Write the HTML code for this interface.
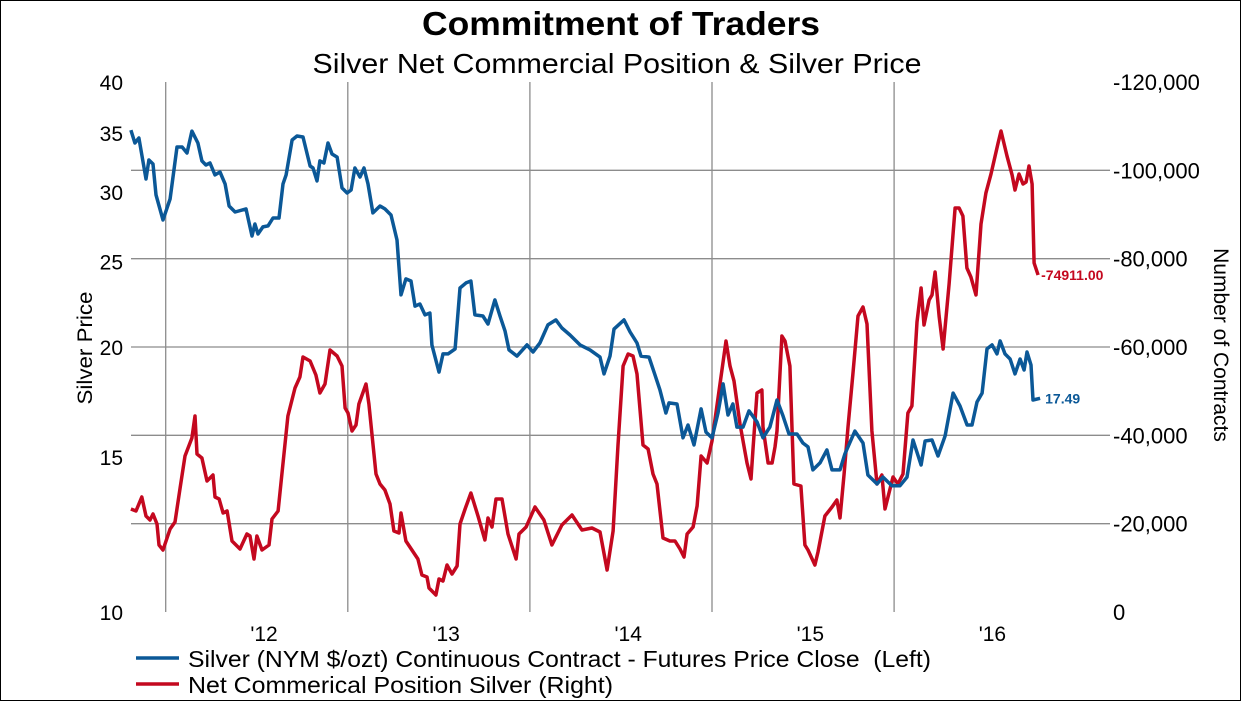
<!DOCTYPE html>
<html><head><meta charset="utf-8">
<style>
html,body{margin:0;padding:0;background:#fff;}
#wrap{position:relative;width:1241px;height:701px;overflow:hidden;}
svg text{font-family:"Liberation Sans",Arial,sans-serif;}
</style></head>
<body>
<div id="wrap">
<svg id="chart" width="1241" height="701" viewBox="0 0 1241 701" xmlns="http://www.w3.org/2000/svg">
  <rect x="0.5" y="0.5" width="1240" height="700" fill="#fff" stroke="#000" stroke-width="1"/>
  <text x="621" y="35" text-anchor="middle" font-size="33" font-weight="bold" textLength="398" lengthAdjust="spacingAndGlyphs">Commitment of Traders</text>
  <text x="617" y="73" text-anchor="middle" font-size="28" textLength="609" lengthAdjust="spacingAndGlyphs">Silver Net Commercial Position &amp; Silver Price</text>
  <g id="grid"></g>
  <g id="axes"></g>
  <g id="series"></g>
  <text transform="translate(92,348) rotate(-90)" text-anchor="middle" font-size="21" textLength="113" lengthAdjust="spacingAndGlyphs">Silver Price</text>
  <text transform="translate(1214,345) rotate(90)" text-anchor="middle" font-size="21">Number of Contracts</text>
  <g>
    <g>
      <line x1="136" y1="658" x2="179" y2="658" stroke="#0b5897" stroke-width="3.5"/>
      <text x="188" y="667" font-size="23" textLength="743" lengthAdjust="spacingAndGlyphs" xml:space="preserve">Silver (NYM $/ozt) Continuous Contract - Futures Price Close  (Left)</text>
    </g>
    <g>
      <line x1="136" y1="684" x2="179" y2="684" stroke="#c4081f" stroke-width="3.5"/>
      <text x="188" y="693" font-size="23" textLength="425" lengthAdjust="spacingAndGlyphs">Net Commerical Position Silver (Right)</text>
    </g>
  </g>
</svg>
</div>
<script>
const priceDates=[2011.309,2011.331,2011.353,2011.392,2011.408,2011.430,2011.447,2011.485,2011.524,2011.562,2011.590,2011.617,2011.644,2011.677,2011.699,2011.721,2011.743,2011.771,2011.798,2011.826,2011.848,2011.881,2011.941,2011.974,2011.990,2012.007,2012.034,2012.062,2012.089,2012.122,2012.144,2012.161,2012.194,2012.221,2012.254,2012.293,2012.309,2012.331,2012.347,2012.369,2012.391,2012.413,2012.441,2012.468,2012.496,2012.518,2012.539,2012.567,2012.589,2012.611,2012.638,2012.677,2012.704,2012.737,2012.770,2012.792,2012.819,2012.847,2012.869,2012.896,2012.924,2012.951,2012.962,2013.001,2013.023,2013.050,2013.089,2013.116,2013.149,2013.176,2013.198,2013.242,2013.270,2013.308,2013.336,2013.363,2013.385,2013.429,2013.484,2013.517,2013.555,2013.599,2013.643,2013.676,2013.720,2013.775,2013.830,2013.885,2013.907,2013.940,2013.962,2014.017,2014.050,2014.088,2014.110,2014.154,2014.187,2014.214,2014.247,2014.264,2014.308,2014.341,2014.368,2014.401,2014.440,2014.467,2014.500,2014.533,2014.561,2014.588,2014.615,2014.637,2014.670,2014.703,2014.747,2014.780,2014.818,2014.857,2014.890,2014.923,2014.967,2014.999,2015.027,2015.054,2015.093,2015.131,2015.159,2015.203,2015.230,2015.285,2015.329,2015.356,2015.406,2015.439,2015.488,2015.532,2015.571,2015.604,2015.648,2015.670,2015.708,2015.741,2015.780,2015.824,2015.862,2015.901,2015.928,2015.955,2015.983,2016.010,2016.038,2016.065,2016.082,2016.109,2016.137,2016.164,2016.192,2016.214,2016.230,2016.252,2016.263,2016.302];
const priceValues=[35.27,34.10,34.55,31.04,32.62,32.28,29.77,27.88,29.46,33.75,33.75,33.22,35.18,34.10,32.54,32.19,32.36,31.37,31.61,30.64,28.92,28.47,28.70,26.74,27.59,26.88,27.38,27.45,28.03,28.03,30.64,31.37,34.37,34.73,34.64,32.11,31.94,30.88,32.54,32.36,34.10,33.13,32.87,30.32,29.92,30.16,31.94,31.20,31.94,30.64,28.40,28.92,28.70,28.25,26.46,22.92,23.90,23.77,22.26,22.38,21.75,21.86,20.11,18.73,19.64,19.64,19.90,23.34,23.65,23.77,21.75,21.69,21.24,22.62,21.69,20.86,19.85,19.53,20.11,19.74,20.21,21.19,21.47,21.02,20.64,20.11,19.85,19.48,18.64,19.53,20.96,21.47,20.80,20.21,19.53,19.48,18.59,17.88,16.83,17.28,17.23,15.77,16.31,15.48,17.01,16.01,15.77,16.83,18.16,16.74,17.23,16.22,16.22,16.92,16.44,15.77,16.22,17.41,16.70,15.93,15.93,15.56,15.40,14.50,14.77,15.28,14.50,14.50,15.12,16.05,15.56,14.31,13.98,14.23,13.91,13.91,14.23,15.68,14.69,15.64,15.68,15.04,15.85,17.73,17.14,16.31,16.31,17.32,17.73,19.90,20.11,19.64,20.32,19.64,19.38,18.64,19.38,18.83,19.74,19.08,17.41,17.49];

const netDates=[2011.309,2011.337,2011.369,2011.392,2011.414,2011.430,2011.452,2011.463,2011.485,2011.524,2011.551,2011.579,2011.606,2011.644,2011.661,2011.672,2011.699,2011.727,2011.760,2011.771,2011.793,2011.815,2011.837,2011.864,2011.908,2011.946,2011.963,2011.985,2012.001,2012.029,2012.067,2012.084,2012.117,2012.138,2012.171,2012.210,2012.237,2012.254,2012.293,2012.325,2012.347,2012.375,2012.402,2012.441,2012.468,2012.485,2012.501,2012.523,2012.545,2012.561,2012.600,2012.616,2012.655,2012.677,2012.704,2012.732,2012.753,2012.781,2012.792,2012.819,2012.852,2012.885,2012.907,2012.935,2012.946,2012.984,2013.001,2013.023,2013.045,2013.072,2013.100,2013.116,2013.144,2013.176,2013.215,2013.253,2013.270,2013.292,2013.314,2013.347,2013.380,2013.424,2013.440,2013.479,2013.528,2013.577,2013.621,2013.676,2013.731,2013.786,2013.841,2013.885,2013.924,2013.957,2013.984,2014.012,2014.039,2014.066,2014.088,2014.121,2014.149,2014.176,2014.198,2014.231,2014.269,2014.297,2014.324,2014.346,2014.363,2014.396,2014.418,2014.440,2014.473,2014.500,2014.544,2014.577,2014.599,2014.621,2014.654,2014.692,2014.714,2014.725,2014.747,2014.774,2014.780,2014.808,2014.830,2014.846,2014.857,2014.884,2014.901,2014.928,2014.950,2014.988,2015.010,2015.027,2015.065,2015.082,2015.120,2015.159,2015.186,2015.203,2015.225,2015.247,2015.274,2015.302,2015.329,2015.351,2015.378,2015.406,2015.433,2015.450,2015.494,2015.521,2015.549,2015.576,2015.598,2015.626,2015.648,2015.664,2015.692,2015.708,2015.725,2015.747,2015.769,2015.802,2015.835,2015.857,2015.878,2015.900,2015.922,2015.950,2015.977,2016.004,2016.032,2016.071,2016.087,2016.120,2016.148,2016.164,2016.186,2016.208,2016.225,2016.241,2016.258,2016.269,2016.291];
const netValues=[-23320,-22870,-26040,-21730,-20830,-22190,-19920,-15170,-14040,-18790,-20380,-28070,-35320,-39390,-44370,-35770,-34870,-29660,-31020,-26040,-25580,-22410,-22870,-16070,-14260,-17660,-17210,-12000,-17210,-14040,-15170,-21060,-22870,-31240,-44370,-50710,-53200,-57730,-56830,-53660,-49580,-51620,-59320,-57960,-55690,-46190,-45050,-40980,-42340,-47090,-51620,-47090,-31240,-28980,-27620,-24450,-18340,-17890,-22410,-16070,-14040,-12000,-8380,-7920,-5430,-3850,-7470,-7020,-10640,-8600,-10410,-19920,-23320,-26940,-21730,-16300,-21280,-19240,-25580,-25580,-17660,-12000,-17660,-19240,-23770,-20830,-15170,-19700,-21960,-18560,-19020,-18110,-9510,-18340,-37810,-55690,-58410,-57960,-53880,-37810,-36900,-31240,-28980,-16750,-16070,-16070,-14260,-12450,-17660,-19240,-24000,-35320,-33730,-38710,-51620,-61350,-55690,-52300,-42560,-33730,-30110,-36900,-49580,-50260,-41880,-33730,-33730,-37360,-40980,-62490,-61350,-55690,-28980,-28530,-15170,-14040,-10640,-13580,-21730,-23770,-25360,-21280,-31020,-41880,-53880,-67010,-69050,-65200,-40980,-28980,-31020,-23320,-30560,-28980,-31240,-45050,-46640,-65660,-73350,-64980,-70640,-71770,-76980,-67010,-59540,-74260,-91470,-91470,-89650,-77880,-75840,-71770,-87840,-94860,-99160,-106180,-108900,-103240,-98940,-95540,-99160,-96900,-97350,-100970,-96900,-79010,-76300,-74911];

const leftTicks=[10,15,20,25,30,35,40];
const rightTicks=[0,-20000,-40000,-60000,-80000,-100000,-120000];
const rightTickLabels=["0","-20,000","-40,000","-60,000","-80,000","-100,000","-120,000"];
const yearTicks=[2012,2013,2014,2015,2016];
const yearLabels=["'12","'13","'14","'15","'16"];
const gridYears=[2011.5,2012.5,2013.5,2014.5,2015.5];
const lastPriceLabel="17.49";
const lastNetLabel="-74911.00";

const PL=131,PR=1110,PT=82,PB=612;
const T0=2011.5, X0=165.7, PXY=182.1;
function xScale(t){return X0+(t-T0)*PXY;}
function yLeft(v){return PB-(PB-PT)*Math.log(v/10)/Math.log(4);}
function yRight(v){return PB-(PB-PT)*(v/-120000);}
const NS="http://www.w3.org/2000/svg";
function mk(tag,attrs,parent){const e=document.createElementNS(NS,tag);for(const k in attrs)e.setAttribute(k,attrs[k]);parent.appendChild(e);return e;}

const grid=document.getElementById('grid');
const axes=document.getElementById('axes');
const series=document.getElementById('series');

gridYears.forEach(function(t){
  const l=mk('line',{x1:xScale(t),x2:xScale(t),y1:PT,y2:PB,stroke:'#8c8c8c','stroke-width':1.3},grid);
  
  
});
rightTicks.forEach(function(v){
  if(v===0||v===-120000)return;
  const l=mk('line',{x1:PL,x2:PR,y1:yRight(v),y2:yRight(v),stroke:'#8c8c8c','stroke-width':1.3},grid);
  
  
});
leftTicks.forEach(function(v){
  const t=mk('text',{x:123,y:yLeft(v)+8,'text-anchor':'end','font-size':21},axes);
  t.textContent=String(v);
  
  
});
rightTicks.forEach(function(v,i){
  const t=mk('text',{x:1113,y:yRight(v)+8,'text-anchor':'start','font-size':22},axes);
  t.textContent=rightTickLabels[i];
  
  
});
yearTicks.forEach(function(y,i){
  const t=mk('text',{x:xScale(y+0.04),y:641,'text-anchor':'middle','font-size':21},axes);
  t.textContent=yearLabels[i];
  
  
});

function path(dates,vals,ys){
  return dates.map(function(t,i){return (i?'L':'M')+xScale(t).toFixed(1)+' '+ys(vals[i]).toFixed(1);}).join(' ');
}
const red=mk('path',{d:path(netDates,netValues,yRight),fill:'none',stroke:'#c4081f','stroke-width':3.5,'stroke-linejoin':'round'},series);


const blue=mk('path',{d:path(priceDates,priceValues,yLeft),fill:'none',stroke:'#0b5897','stroke-width':3.5,'stroke-linejoin':'round'},series);



const nl=netDates.length-1, pl=priceDates.length-1;
const rl=mk('text',{x:xScale(netDates[nl])+3,y:yRight(netValues[nl])+5,'font-size':14,'font-weight':'bold',fill:'#c4081f'},series);
rl.textContent=lastNetLabel;


const bl=mk('text',{x:xScale(priceDates[pl])+5,y:yLeft(priceValues[pl])+5,'font-size':14,'font-weight':'bold',fill:'#0b5897'},series);
bl.textContent=lastPriceLabel;


</script>
</body></html>
